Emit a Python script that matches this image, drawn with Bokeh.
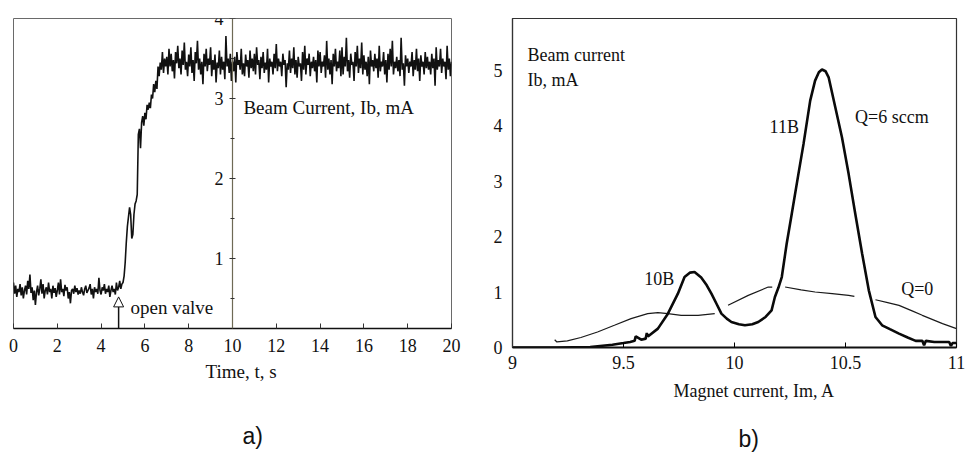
import math
from bokeh.plotting import figure
from bokeh.models import (Range1d, FixedTicker, Arrow, NormalHead, Title,
                          NumeralTickFormatter)
from bokeh.layouts import row
from bokeh.embed import file_html
from bokeh.resources import INLINE
from bokeh.core.properties import value

FONT = "Liberation Serif"
NaN = float("nan")

# ---------------- panel a) data (sampled every 0.05 s) ----------------
time_s = [round(0.05 * i, 2) for i in range(401)]
beam_current_ma = [
    # 0.00 - 4.95
    0.70, 0.56, 0.66, 0.52, 0.62, 0.58, 0.68, 0.54, 0.64, 0.50,
    0.60, 0.66, 0.55, 0.72, 0.62, 0.80, 0.57, 0.64, 0.48, 0.60,
    0.42, 0.58, 0.66, 0.54, 0.62, 0.74, 0.56, 0.68, 0.50, 0.60,
    0.64, 0.55, 0.70, 0.58, 0.62, 0.50, 0.66, 0.57, 0.63, 0.52,
    0.60, 0.70, 0.55, 0.74, 0.58, 0.62, 0.53, 0.67, 0.60, 0.64,
    0.50, 0.58, 0.44, 0.60, 0.62, 0.56, 0.66, 0.58, 0.63, 0.55,
    0.60, 0.56, 0.64, 0.58, 0.54, 0.62, 0.66, 0.57, 0.60, 0.63,
    0.68, 0.55, 0.62, 0.50, 0.64, 0.58, 0.62, 0.56, 0.76, 0.60,
    0.55, 0.64, 0.60, 0.68, 0.56, 0.62, 0.58, 0.66, 0.52, 0.60,
    0.66, 0.58, 0.62, 0.55, 0.70, 0.60, 0.64, 0.72, 0.62, 0.68,
    # 5.00 - 6.95 (rise after the valve is opened)
    0.70, 0.78, 0.95, 1.20, 1.40, 1.52, 1.64, 1.55, 1.25, 1.30,
    1.55, 1.68, 1.72, 1.80, 2.55, 2.62, 2.38, 2.70, 2.78, 2.66,
    2.82, 2.74, 2.92, 2.86, 2.95, 2.88, 3.05, 3.00, 3.18, 3.08,
    3.22, 3.12, 3.40, 3.28, 3.45, 3.36, 3.58, 3.32, 3.50, 3.40,
    # 7.00 - 20.00 (plateau)
    3.52, 3.30, 3.62, 3.40, 3.56, 3.34, 3.48, 3.25, 3.58, 3.44,
    3.66, 3.38, 3.50, 3.30, 3.60, 3.42, 3.70, 3.36, 3.46, 3.28,
    3.55, 3.40, 3.64, 3.32, 3.48, 3.22, 3.58, 3.44, 3.72, 3.36,
    3.50, 3.30, 3.46, 3.18, 3.56, 3.40, 3.62, 3.34, 3.50, 3.42,
    3.64, 3.28, 3.48, 3.36, 3.55, 3.20, 3.45, 3.38, 3.60, 3.30,
    3.52, 3.36, 3.46, 3.24, 3.78, 3.40, 3.50, 3.32, 3.56, 3.22,
    3.46, 3.34, 3.52, 3.20, 3.58, 3.42, 3.48, 3.36, 3.62, 3.30,
    3.44, 3.28, 3.55, 3.40, 3.48, 3.26, 3.60, 3.38, 3.50, 3.34,
    3.56, 3.30, 3.64, 3.42, 3.48, 3.24, 3.52, 3.38, 3.58, 3.32,
    3.45, 3.36, 3.62, 3.20, 3.50, 3.40, 3.46, 3.30, 3.56, 3.38,
    3.68, 3.34, 3.50, 3.40, 3.46, 3.28, 3.56, 3.42, 3.48, 3.14,
    3.44, 3.36, 3.60, 3.32, 3.50, 3.38, 3.64, 3.30, 3.48, 3.26,
    3.52, 3.40, 3.44, 3.22, 3.58, 3.36, 3.66, 3.30, 3.50, 3.42,
    3.56, 3.28, 3.46, 3.38, 3.52, 3.34, 3.48, 3.20, 3.60, 3.40,
    3.58, 3.32, 3.46, 3.40, 3.54, 3.26, 3.72, 3.36, 3.50, 3.30,
    3.48, 3.18, 3.56, 3.40, 3.62, 3.34, 3.46, 3.38, 3.60, 3.28,
    3.64, 3.30, 3.52, 3.40, 3.76, 3.34, 3.48, 3.26, 3.56, 3.42,
    3.46, 3.22, 3.58, 3.40, 3.66, 3.32, 3.50, 3.38, 3.70, 3.30,
    3.54, 3.36, 3.46, 3.28, 3.52, 3.18, 3.60, 3.40, 3.48, 3.34,
    3.56, 3.38, 3.50, 3.26, 3.66, 3.34, 3.46, 3.40, 3.58, 3.30,
    3.48, 3.20, 3.56, 3.36, 3.62, 3.40, 3.72, 3.30, 3.46, 3.38,
    3.52, 3.34, 3.48, 3.28, 3.76, 3.36, 3.44, 3.16, 3.54, 3.40,
    3.50, 3.32, 3.46, 3.40, 3.58, 3.28, 3.48, 3.36, 3.62, 3.34,
    3.50, 3.22, 3.54, 3.40, 3.46, 3.30, 3.58, 3.38, 3.52, 3.36,
    3.46, 3.30, 3.56, 3.38, 3.50, 3.16, 3.64, 3.36, 3.48, 3.40,
    3.62, 3.32, 3.50, 3.40, 3.46, 3.24, 3.66, 3.36, 3.50, 3.28,
    3.46,
]
time_ticks = [0, 2, 4, 6, 8, 10, 12, 14, 16, 18, 20]
current_ticks_a = [1, 2, 3, 4]
current_minor_a = [0.5, 1.5, 2.5, 3.5]

# ---------------- panel b) data ----------------
magnet_q6 = [9.00, 9.20, 9.35, 9.45, 9.50, 9.53, 9.55, 9.555, 9.58, 9.60, 9.605,
             9.61, 9.655, 9.70, 9.745, 9.775, 9.80, 9.82, 9.85, 9.875, 9.896,
             9.92, 9.941, 9.965, 9.986, 10.02, 10.047, 10.08, 10.107, 10.14,
             10.167, 10.182, 10.198, 10.213, 10.235, 10.258, 10.288, 10.311,
             10.341, 10.363, 10.38, 10.394, 10.41, 10.424, 10.454, 10.484,
             10.514, 10.544, 10.575, 10.605, 10.635, 10.665, 10.70, 10.741,
             10.78, 10.816, 10.846, 10.854, 10.862, 10.90, 10.94, 10.967,
             10.975, 10.982, 11.00]
beam_q6 = [0.00, 0.00, 0.01, 0.05, 0.08, 0.10, 0.12, 0.20, 0.14, 0.16, 0.26,
           0.20, 0.34, 0.61, 0.97, 1.27, 1.35, 1.36, 1.26, 1.12, 0.97,
           0.78, 0.61, 0.52, 0.46, 0.42, 0.40, 0.42, 0.46, 0.55,
           0.67, 0.91, 1.08, 1.27, 1.87, 2.41, 3.13, 3.67,
           4.45, 4.81, 4.96, 5.01, 4.98, 4.87, 4.33, 3.79,
           3.13, 2.41, 1.69, 1.03, 0.55, 0.40, 0.33, 0.25,
           0.18, 0.12, 0.12, 0.04, 0.12, 0.10, 0.10, 0.10,
           0.03, 0.08, 0.08]
magnet_q0 = [9.19, 9.20, 9.247, 9.308, 9.383, 9.459, 9.534, 9.609, 9.655, 9.70,
             9.76, 9.836, 9.911, NaN, 9.971, 10.062, 10.152, 10.17, NaN, 10.228,
             10.30, 10.363, 10.44, 10.514, 10.54, NaN, 10.635, 10.69, 10.741,
             10.80, 10.846, 10.937, 11.00]
beam_q0 = [0.14, 0.10, 0.12, 0.18, 0.28, 0.40, 0.52, 0.61, 0.63, 0.61,
           0.58, 0.58, 0.61, NaN, 0.76, 0.94, 1.09, 1.09, NaN, 1.09,
           1.04, 1.00, 0.97, 0.94, 0.92, NaN, 0.86, 0.81, 0.76,
           0.66, 0.58, 0.43, 0.34]
magnet_ticks = [9, 9.5, 10, 10.5, 11]
current_ticks_b = [0, 1, 2, 3, 4, 5]


def style_axis(ax, size="18px"):
    ax.major_label_text_font = FONT
    ax.major_label_text_font_size = size
    ax.major_label_text_color = "#111111"
    ax.axis_label = None


# ================= panel a =================
p1 = figure(output_backend="svg", toolbar_location=None,
            frame_width=438, frame_height=310,
            min_border_left=13, min_border_right=29,
            min_border_top=18, min_border_bottom=122,
            x_range=Range1d(0, 20), y_range=Range1d(0.125, 4.0))
p1.grid.visible = False
p1.outline_line_color = "#6a6a6a"
p1.outline_line_width = 1

xa = p1.xaxis[0]
style_axis(xa)
xa.ticker = FixedTicker(ticks=time_ticks)
xa.major_tick_in = 5
xa.major_tick_out = 0
xa.minor_tick_in = 0
xa.minor_tick_out = 0
xa.axis_line_color = "#111111"
xa.axis_line_width = 1.5
xa.major_tick_line_color = "#333333"
xa.major_label_standoff = 10

ya = p1.yaxis[0]
style_axis(ya)
ya.fixed_location = 10
ya.ticker = FixedTicker(ticks=current_ticks_a, minor_ticks=current_minor_a)
ya.major_tick_in = 3
ya.major_tick_out = 3
ya.minor_tick_in = 2
ya.minor_tick_out = 2
ya.axis_line_color = "#6e6a55"
ya.axis_line_width = 1.2
ya.major_tick_line_color = "#333333"
ya.minor_tick_line_color = "#333333"
ya.major_label_standoff = 6
if hasattr(ya, "major_label_background_fill_color"):
    ya.major_label_background_fill_color = "white"

p1.line(time_s, beam_current_ma, line_color="#111111", line_width=1.6)

p1.text(x=[10.5], y=[2.89], text=["Beam Current, Ib, mA"],
        text_font=value(FONT), text_font_size="19px", text_color="#111111",
        text_baseline="middle", text_align="left")
p1.text(x=[5.34], y=[0.39], text=["open valve"],
        text_font=value(FONT), text_font_size="19px", text_color="#111111",
        text_baseline="middle", text_align="left")
p1.add_layout(Arrow(end=NormalHead(size=10, fill_color="white",
                                   line_color="#111111", line_width=1),
                    x_start=4.8, y_start=0.125, x_end=4.8, y_end=0.52,
                    line_color="#111111", line_width=1.5))

p1.add_layout(Title(text="Time, t, s", align="left", offset=192,
                    text_font=FONT, text_font_size="19px",
                    text_font_style="normal", text_color="#111111",
                    standoff=8), "below")
p1.add_layout(Title(text="a)", align="left", offset=229,
                    text_font="Liberation Sans", text_font_size="23px",
                    text_font_style="normal", text_color="#111111",
                    standoff=70), "below")

# ================= panel b =================
p2 = figure(output_backend="svg", toolbar_location=None,
            frame_width=444, frame_height=329,
            min_border_left=32, min_border_right=10,
            min_border_top=18, min_border_bottom=103,
            x_range=Range1d(9, 11), y_range=Range1d(0, 5.93))
p2.grid.visible = False
p2.outline_line_color = "#333333"
p2.outline_line_width = 1.2

xb = p2.xaxis[0]
style_axis(xb)
xb.ticker = FixedTicker(ticks=magnet_ticks)
xb.formatter = NumeralTickFormatter(format="0.[0]")
xb.major_tick_in = 5
xb.major_tick_out = 0
xb.minor_tick_in = 0
xb.minor_tick_out = 0
xb.axis_line_color = "#111111"
xb.axis_line_width = 2.2
xb.major_label_standoff = 8

yb = p2.yaxis[0]
style_axis(yb)
yb.ticker = FixedTicker(ticks=current_ticks_b)
yb.major_tick_in = 0
yb.major_tick_out = 0
yb.minor_tick_in = 0
yb.minor_tick_out = 0
yb.axis_line_color = "#333333"
yb.axis_line_width = 1.2
yb.major_label_standoff = 10

p2.line(magnet_q0, beam_q0, line_color="#1a1a1a", line_width=1.2)
p2.line(magnet_q6, beam_q6, line_color="#0a0a0a", line_width=2.6)

labels_x = [9.068, 9.068, 10.543, 10.158, 9.593, 10.751]
labels_y = [5.28, 4.83, 4.15, 3.97, 1.24, 1.05]
labels_t = ["Beam current", "Ib, mA", "Q=6 sccm", "11B", "10B", "Q=0"]
p2.text(x=labels_x, y=labels_y, text=labels_t,
        text_font=value(FONT), text_font_size="18px", text_color="#111111",
        text_baseline="middle", text_align="left")

p2.add_layout(Title(text="Magnet current, Im, A", align="left", offset=161,
                    text_font=FONT, text_font_size="18px",
                    text_font_style="normal", text_color="#111111",
                    standoff=14), "below")
p2.add_layout(Title(text="b)", align="left", offset=226,
                    text_font="Liberation Sans", text_font_size="23px",
                    text_font_style="normal", text_color="#111111",
                    standoff=32), "below")

layout = row(p1, p2)
open("out.html", "w").write(file_html(layout, INLINE))
